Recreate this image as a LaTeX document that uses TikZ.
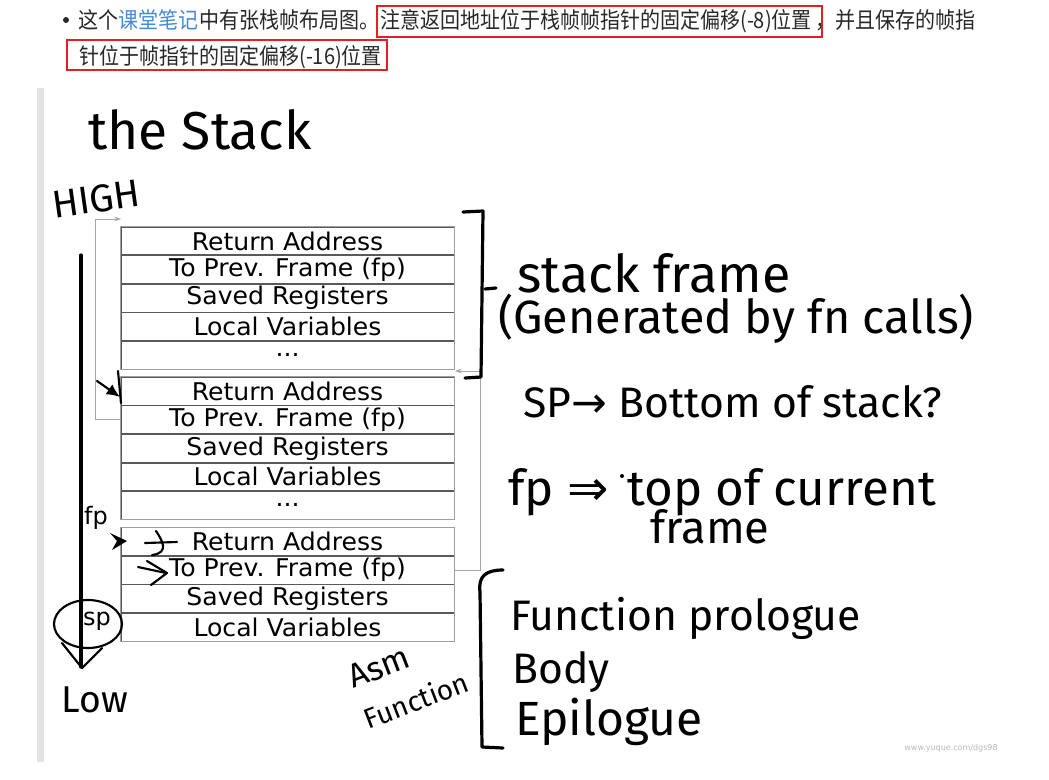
\documentclass[tikz,border=0pt]{standalone}
\usepackage{fontspec}
\usepackage{graphicx}
\setmainfont{DejaVu Sans}
\newfontfamily\cjk{Noto Sans CJK SC}
\newfontfamily\hand{Fira Sans}
\usetikzlibrary{positioning,arrows.meta,shapes.geometric}
\definecolor{txt}{RGB}{40,40,40}
\definecolor{lnk}{RGB}{70,138,210}
\definecolor{redbox}{RGB}{228,30,38}
\newcommand\hsz[1]{\fontsize{#1}{#1}\selectfont}
\newcommand\cw[1]{\scalebox{1.03}[1]{#1}}
\newcommand\zs[1]{\scalebox{1}[1.12]{#1}}
\begin{document}
\begin{tikzpicture}[x=0.75pt,y=-0.75pt,
  zh/.style={inner sep=0pt, anchor=base west, text=txt, font=\cjk\hsz{15pt}},
  cell/.style={rectangle, draw=black!65, line width=0.6pt, minimum width=249.75pt,
    minimum height=20.8pt, inner sep=0pt, font=\hsz{18.3pt}},
  frameout/.style={draw=gray!75, line width=0.8pt},
  link/.style={draw=gray!70, line width=0.7pt},
  brk/.style={line width=2.4pt, line cap=round, line join=round},
  hw/.style={line width=1.6pt, line cap=round, line join=round},
  handtxt/.style={inner sep=0pt, font=\hand, anchor=base west},
  tiny/.style={-{Stealth[length=5pt,width=3.5pt]}}
]
\useasboundingbox (0,0) rectangle (1049,779);
\fill[white] (0,0) rectangle (1049,779);

% ---- top text ----
\fill[txt] (66,20) circle (3);
\node[zh] (z1) at (78,28) {\zs{这个}};
\node[zh, text=lnk] (z2) at (z1.base east) {\zs{课堂笔记}};
\node[zh] (z3) at (z2.base east) {\zs{中有张栈帧布局图。}};
\node[zh] (z4) at (380,28) {\zs{注意返回地址位于栈帧帧指针的固定偏移(-8)位置}};
\node[zh] (z5) at ([xshift=2pt]z4.base east) {\zs{，并且保存的帧指}};
\node[zh] (z6) at (79,64) {\zs{针位于帧指针的固定偏移(-16)位置}};
\draw[redbox, line width=1.5pt] (377,6) rectangle (822,37);
\draw[redbox, line width=1.5pt] (67,40) rectangle (387,70);

% ---- left bar ----
\fill[gray!22] (37,88) rectangle (44,762);

% ---- frame 1 ----
\node[cell] (a1) at (287.5,241) {\cw{Return Address}};
\node[cell, below=0pt of a1] (a2) {\cw{To Prev. Frame (fp)}};
\node[cell, below=0pt of a2] (a3) {\cw{Saved Registers}};
\node[cell, below=0pt of a3] (a4) {\cw{Local Variables}};
\node[cell, below=0pt of a4] (a5) {\cw{...}};
\draw[frameout] (a1.north west) rectangle (a5.south east);
% ---- frame 2 ----
\node[cell] (b1) at (287.5,391.2) {\cw{Return Address}};
\node[cell, below=0pt of b1] (b2) {\cw{To Prev. Frame (fp)}};
\node[cell, below=0pt of b2] (b3) {\cw{Saved Registers}};
\node[cell, below=0pt of b3] (b4) {\cw{Local Variables}};
\node[cell, below=0pt of b4] (b5) {\cw{...}};
\draw[frameout] (b1.north west) rectangle (b5.south east);
% ---- frame 3 ----
\node[cell] (c1) at (287.5,541.6) {\cw{Return Address}};
\node[cell, below=0pt of c1] (c2) {\cw{To Prev. Frame (fp)}};
\node[cell, below=0pt of c2] (c3) {\cw{Saved Registers}};
\node[cell, below=0pt of c3] (c4) {\cw{Local Variables}};
\draw[frameout] (c1.north west) rectangle (c4.south east);

% ---- fp links ----
\coordinate (top1) at (121,219);
\coordinate (mid12) at (455,371);
\draw[link, tiny] (b2.west) -- ++(-25,0) |- (top1);
\draw[link, tiny] (c2.east) -- ++(26,0) |- (mid12);

% ---- brackets ----
\draw[brk] (463,212) -- (483,211) -- (481,377) -- (465,378);
\draw[brk] (485,289) -- (496,288);
\draw[brk] (503,570) .. controls (486,570) and (478,576) .. (480,592) -- (482,747) -- (503,748);

% ---- title ----
\node[handtxt, font=\hand\hsz{40pt}] (title) at (88,149) {the Stack};

% ---- high/low arrow ----
\node[inner sep=0pt, font=\hand\hsz{29pt}, rotate=8] (high) at (96,199) {HIGH};
\node[inner sep=0pt, font=\hand\hsz{28pt}] (low) at (95,700) {Low};
\coordinate (ha) at (81,255);
\coordinate (hb) at (81,667);
\draw[brk] (ha) -- (hb);
\draw[hw] (62,643) -- (82,668) -- (102,648);

% ---- fp / sp labels ----
\node[inner sep=0pt, font=\hsz{18pt}] (fp) at (96,518) {fp};
\node[inner sep=0pt, font=\hsz{18pt}] (sp) at (97,621) {sp};
\node[draw, hw, ellipse, minimum width=51pt, minimum height=36pt, inner sep=0pt] (spc) at (88,624) {};

% ---- hand arrows ----
\draw[hw, -{Latex[length=10pt,width=9pt]}] (97,381) -- (120,397);
\draw[hw] (118,371) -- (121,403);
\fill (110,533) -- (127,541) -- (112,550) -- (117,541) -- cycle;
\draw[hw] (145,543) -- (177,542);
\draw[hw] (156,531) .. controls (162,540) and (170,553) .. (152,555);
\draw[hw] (138,567) -- (166,573);
\draw[hw] (147,561) -- (167,573) -- (151,585);

% ---- right notes ----
\node[handtxt, font=\hand\hsz{39pt}] (sf) at (517,292) {stack frame};
\node[handtxt, font=\hand\hsz{35pt}] (gen) at (498,333) {(Generated by fn calls)};
\node[handtxt, font=\hand\hsz{32pt}] (spb) at (523,417) {SP{\rmfamily →} Bottom of stack?};
\node[handtxt, font=\hand\hsz{37pt}] (fpt) at (508,505) {fp {\rmfamily ⇒}\hspace{14pt}top of current};
\fill (622,476) circle (2);
\node[handtxt, font=\hand\hsz{34pt}] (frm) at (650,543) {frame};

\node[handtxt, font=\hand\hsz{32pt}] (fprol) at (510,630) {Function prologue};
\node[handtxt, font=\hand\hsz{32pt}] (body) at (512,683) {Body};
\node[handtxt, font=\hand\hsz{36pt}] (epi) at (515,735) {Epilogue};
\node[inner sep=0pt, font=\hand\hsz{25pt}, rotate=21] (asm) at (379,667) {Asm};
\node[inner sep=0pt, font=\hand\hsz{21pt}, rotate=21] (fun) at (416,700) {Function};

\node[inner sep=0pt, font=\hsz{6pt}, text=gray!55] (wm) at (951,748) {www.yuque.com/dgs98};
\end{tikzpicture}
\end{document}
